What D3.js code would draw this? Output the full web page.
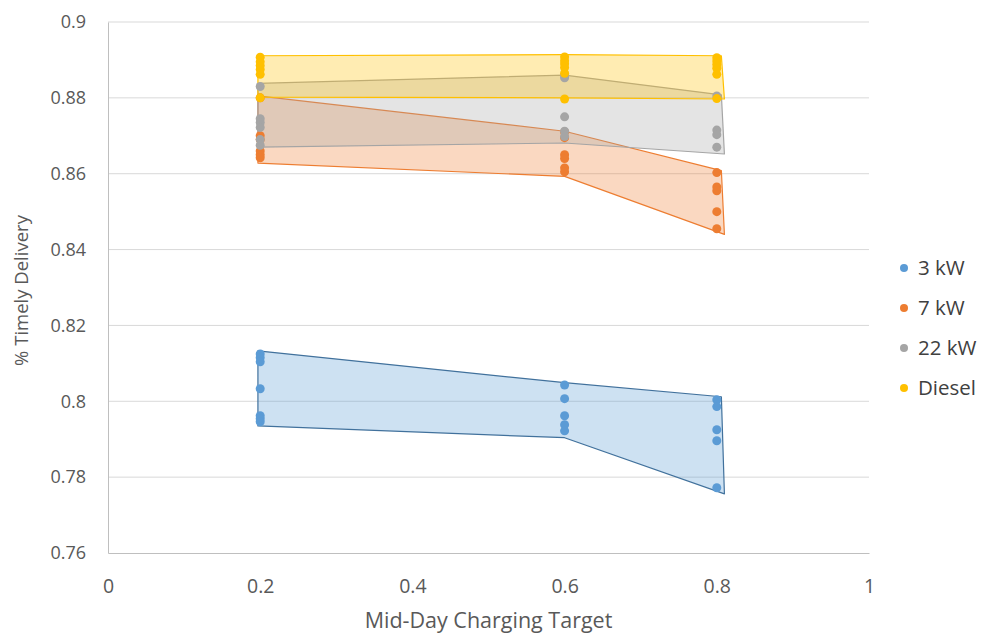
<!DOCTYPE html>
<html>
<head>
<meta charset="utf-8">
<script src="https://cdn.jsdelivr.net/npm/d3@7"></script>
<style>
  body { margin: 0; background: #fff; }
  .tick text { fill: #595959; }
</style>
</head>
<body>
<div id="chart"></div>
<script>
// series names + colours
let seriesNames = ["3 kW", "7 kW", "22 kW", "Diesel"]
let seriesColors = ["#5B9BD5", "#ED7D31", "#A5A5A5", "#FFC000"]
let bandStrokes = ["#41719C", "#ED7D31", "#A5A5A5", "#FFC000"]

// scatter points, one list per series: [x, y]
let pts3kW = [
    [0.2, 0.8125], [0.2, 0.8115], [0.2, 0.8104], [0.2, 0.8033], [0.2, 0.7962], [0.2, 0.7954], [0.2, 0.7946],
    [0.6, 0.8043], [0.6, 0.8007], [0.6, 0.7962], [0.6, 0.7938], [0.6, 0.7922],
    [0.8, 0.8004], [0.8, 0.7986], [0.8, 0.7925], [0.8, 0.7896], [0.8, 0.7772]
]
let pts7kW = [
    [0.2, 0.8800], [0.2, 0.8700], [0.2, 0.8690], [0.2, 0.8660], [0.2, 0.8650], [0.2, 0.8642],
    [0.6, 0.8710], [0.6, 0.8695], [0.6, 0.8650], [0.6, 0.8640], [0.6, 0.8615], [0.6, 0.8605],
    [0.8, 0.8603], [0.8, 0.8565], [0.8, 0.8555], [0.8, 0.8500], [0.8, 0.8455]
]
let pts22kW = [
    [0.2, 0.8830], [0.2, 0.8745], [0.2, 0.8735], [0.2, 0.8722], [0.2, 0.8690], [0.2, 0.8675],
    [0.6, 0.8860], [0.6, 0.8853], [0.6, 0.8750], [0.6, 0.8712], [0.6, 0.8698],
    [0.8, 0.8805], [0.8, 0.8715], [0.8, 0.8703], [0.8, 0.8670]
]
let ptsDiesel = [
    [0.2, 0.8907], [0.2, 0.8895], [0.2, 0.8885], [0.2, 0.8875], [0.2, 0.8862], [0.2, 0.8800],
    [0.6, 0.8908], [0.6, 0.8898], [0.6, 0.8890], [0.6, 0.8880], [0.6, 0.8865], [0.6, 0.8797],
    [0.8, 0.8906], [0.8, 0.8897], [0.8, 0.8888], [0.8, 0.8878], [0.8, 0.8862], [0.8, 0.8798]
]

// shaded min/max bands
let bandUpperX = [0.197, 0.6, 0.806]
let bandLowerX = [0.197, 0.6, 0.81]
let upper3kW = [0.8133, 0.8049, 0.8012]
let lower3kW = [0.7935, 0.7904, 0.7756]
let upper7kW = [0.8805, 0.8712, 0.8608]
let lower7kW = [0.8628, 0.8593, 0.8440]
let upper22kW = [0.8838, 0.8860, 0.8808]
let lower22kW = [0.8670, 0.8681, 0.8652]
let upperDiesel = [0.8911, 0.8914, 0.8911]
let lowerDiesel = [0.8802, 0.8800, 0.8797]

let xTicks = [0, 0.2, 0.4, 0.6, 0.8, 1]
let yTicks = [0.76, 0.78, 0.8, 0.82, 0.84, 0.86, 0.88, 0.9]

let allPoints = [pts3kW, pts7kW, pts22kW, ptsDiesel]
let allUpper = [upper3kW, upper7kW, upper22kW, upperDiesel]
let allLower = [lower3kW, lower7kW, lower22kW, lowerDiesel]

let margin = {top: 22, right: 125, bottom: 81, left: 108},
    width = 994 - margin.left - margin.right,
    height = 634 - margin.top - margin.bottom;

let svg = d3.select("#chart")
    .append("svg")
    .attr("width", 994)
    .attr("height", 634)
    .append("g")
    .attr("transform", "translate(" + margin.left + "," + margin.top + ")");

let x = d3.scaleLinear().domain([0, 1]).range([0, width])
let y = d3.scaleLinear().domain([0.76, 0.9]).range([height, 0])

// gridlines
svg.append("g")
    .selectAll("line")
    .data(yTicks.slice(1))
    .join("line")
    .attr("x1", 0).attr("x2", width)
    .attr("y1", d => y(d)).attr("y2", d => y(d))
    .attr("stroke", "#d9d9d9")
    .attr("stroke-width", 1)

// axes
let xAxis = svg.append("g")
    .attr("transform", "translate(0," + height + ")")
    .call(d3.axisBottom(x).tickValues(xTicks).tickSize(0).tickPadding(26).tickFormat(d3.format("")))
xAxis.select(".domain").attr("stroke", "#bfbfbf")
xAxis.selectAll("text")
    .attr("font-family", "'Liberation Sans Narrow', 'Open Sans', sans-serif")
    .attr("font-size", 19.5)

let yAxis = svg.append("g")
    .call(d3.axisLeft(y).tickValues(yTicks).tickSize(0).tickPadding(22).tickFormat(d3.format("")))
yAxis.select(".domain").attr("stroke", "#bfbfbf")
yAxis.selectAll("text")
    .attr("font-family", "'Open Sans', sans-serif")
    .attr("font-size", 18)

// bands (area between upper and lower)
function bandPath(up, low) {
    let pts = up.map((v, i) => [x(bandUpperX[i]), y(v)])
    let back = low.map((v, i) => [x(bandLowerX[i]), y(v)]).reverse()
    return d3.line()(pts.concat(back)) + "Z"
}

for (let i = 0; i < seriesNames.length; i++) {
    svg.append("path")
        .attr("d", bandPath(allUpper[i], allLower[i]))
        .attr("fill", seriesColors[i])
        .attr("fill-opacity", 0.3)
        .attr("stroke", bandStrokes[i])
        .attr("stroke-width", 1.2)
        .attr("stroke-linejoin", "round")
}

// points
for (let i = 0; i < seriesNames.length; i++) {
    svg.append("g")
        .selectAll("circle")
        .data(allPoints[i])
        .join("circle")
        .attr("cx", d => x(d[0]))
        .attr("cy", d => y(d[1]))
        .attr("r", 4.5)
        .attr("fill", seriesColors[i])
}

// axis titles
svg.append("text")
    .attr("x", width / 2)
    .attr("y", height + 75)
    .attr("text-anchor", "middle")
    .attr("font-family", "'Liberation Sans Narrow', 'Open Sans', sans-serif")
    .attr("font-size", 21.5)
    .attr("fill", "#595959")
    .text("Mid-Day Charging Target")

svg.append("text")
    .attr("transform", "translate(" + (-80) + "," + (height / 2 + 3) + ") rotate(-90)")
    .attr("text-anchor", "middle")
    .attr("font-family", "'Open Sans', sans-serif")
    .attr("font-size", 18.5)
    .attr("fill", "#595959")
    .text("% Timely Delivery")

// legend
let legend = svg.append("g")
    .attr("transform", "translate(" + (width + 35) + "," + (268 - margin.top) + ")")
let items = legend.selectAll("g")
    .data(seriesNames)
    .join("g")
    .attr("transform", (d, i) => "translate(0," + (i * 40) + ")")
items.append("circle")
    .attr("r", 4)
    .attr("fill", (d, i) => seriesColors[i])
items.append("text")
    .attr("x", 14)
    .attr("dy", "0.35em")
    .attr("font-family", "'Open Sans', sans-serif")
    .attr("font-size", 20.5)
    .attr("fill", "#404040")
    .text(d => d)
</script>
</body>
</html>
